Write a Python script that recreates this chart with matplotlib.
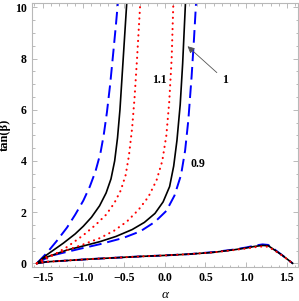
import matplotlib
matplotlib.use("Agg")
import matplotlib.pyplot as plt
from matplotlib.ticker import MultipleLocator

# ---------------- data ----------------
# blue dashed
blue_left_a = [-1.571, -1.45, -1.325, -1.2, -1.1, -1.0, -0.92, -0.85, -0.79, -0.75, -0.71, -0.67, -0.63, -0.60, -0.575]
blue_left_y = [0.0, 0.4, 0.88, 1.4, 1.9, 2.45, 3.0, 3.6, 4.3, 5.0, 5.9, 7.0, 8.3, 9.3, 10.2]
blue_right_a = [-1.571, -1.407, -1.2, -1.0, -0.794, -0.512, -0.3, -0.12, 0.02, 0.12, 0.2, 0.25, 0.29, 0.33, 0.36, 0.385]
blue_right_y = [0.0, 0.29, 0.45, 0.6, 0.75, 0.99, 1.25, 1.62, 2.05, 2.65, 3.45, 4.4, 5.6, 7.3, 8.8, 10.2]
blue_low_a = [-1.571, -1.45, -1.2, -0.9, -0.6, -0.3, 0.0, 0.3, 0.6, 0.85, 1.0, 1.1, 1.2, 1.27, 1.35, 1.45, 1.571]
blue_low_y = [0.0, 0.06, 0.11, 0.17, 0.22, 0.27, 0.31, 0.36, 0.44, 0.54, 0.62, 0.69, 0.74, 0.72, 0.54, 0.30, 0.0]

# black solid
black_left_a = [-1.571, -1.45, -1.245, -1.1, -1.0, -0.9, -0.8, -0.72, -0.66, -0.615, -0.58, -0.55, -0.52, -0.49, -0.466]
black_left_y = [0.0, 0.33, 0.79, 1.15, 1.45, 1.8, 2.25, 2.75, 3.3, 4.0, 4.9, 6.0, 7.5, 9.0, 10.2]
black_right_a = [-1.571, -1.49, -1.2, -1.0, -0.794, -0.6, -0.4, -0.25, -0.12, -0.02, 0.06, 0.11, 0.15, 0.19, 0.22, 0.255]
black_right_y = [0.0, 0.2, 0.52, 0.68, 0.85, 1.05, 1.32, 1.6, 1.95, 2.4, 3.0, 3.8, 4.8, 6.2, 7.8, 10.2]
black_low_a = [-1.571, -1.45, -1.2, -0.9, -0.6, -0.3, 0.0, 0.3, 0.6, 0.85, 1.0, 1.1, 1.2, 1.27, 1.35, 1.45, 1.571]
black_low_y = [0.0, 0.06, 0.11, 0.17, 0.22, 0.27, 0.31, 0.36, 0.43, 0.53, 0.60, 0.66, 0.70, 0.69, 0.52, 0.30, 0.0]

# red dotted
red_left_a = [-1.571, -1.407, -1.2, -1.0, -0.85, -0.72, -0.62, -0.54, -0.48, -0.44, -0.40, -0.37, -0.34, -0.30]
red_left_y = [0.0, 0.25, 0.64, 1.1, 1.5, 1.9, 2.35, 2.85, 3.45, 4.2, 5.3, 6.5, 8.0, 10.2]
red_right_a = [-1.571, -1.448, -1.2, -1.0, -0.794, -0.62, -0.466, -0.32, -0.2, -0.1, -0.03, 0.02, 0.055, 0.085, 0.106]
red_right_y = [0.0, 0.26, 0.52, 0.74, 0.99, 1.28, 1.63, 2.1, 2.6, 3.25, 4.0, 5.0, 6.3, 8.0, 10.2]
red_low_a = [-1.571, -1.45, -1.2, -0.9, -0.6, -0.3, 0.0, 0.3, 0.6, 0.85, 1.0, 1.1, 1.2, 1.27, 1.35, 1.45, 1.571]
red_low_y = [0.0, 0.06, 0.11, 0.17, 0.22, 0.27, 0.31, 0.36, 0.43, 0.52, 0.58, 0.63, 0.66, 0.65, 0.50, 0.29, 0.0]

x_ticks = [-1.5, -1.0, -0.5, 0.0, 0.5, 1.0, 1.5]
x_tick_labels = ["\u22121.5", "\u22121.0", "\u22120.5", "0.0", "0.5", "1.0", "1.5"]
y_ticks = [0, 2, 4, 6, 8, 10]
y_tick_labels = ["0", "2", "4", "6", "8", "10"]

labels_text = ["1.1", "1", "0.9"]
labels_pos = [(-0.07, 7.16), (0.74, 7.16), (0.41, 3.9)]
arrow_tail = (0.64, 7.45)
arrow_head = (0.28, 8.48)

# ---------------- figure ----------------
fig = plt.figure(figsize=(2.99, 3.01), dpi=100)
ax = fig.add_axes([0.106, 0.114, 0.891, 0.877])

serif = "Liberation Serif"
dash = dict(color=(0, 0, 1), lw=1.4, dashes=(6.5, 3))
solid = dict(color="black", lw=1.2)
dot = dict(color=(1, 0, 0), lw=1.5, linestyle=(0, (0.1, 2.6)), dash_capstyle="round")

for a, y in [(blue_left_a, blue_left_y), (blue_right_a, blue_right_y), (blue_low_a, blue_low_y)]:
    ax.plot(a, y, **dash)
for a, y in [(black_left_a, black_left_y), (black_right_a, black_right_y), (black_low_a, black_low_y)]:
    ax.plot(a, y, **solid)
for a, y in [(red_left_a, red_left_y), (red_right_a, red_right_y), (red_low_a, red_low_y)]:
    ax.plot(a, y, **dot)

for t, (xx, yy) in zip(labels_text, labels_pos):
    ax.text(xx, yy, t, ha="center", va="center", fontsize=8.5, fontweight="bold", family=serif)

ax.annotate("", xy=arrow_head, xytext=arrow_tail,
            arrowprops=dict(arrowstyle="-|>", color="#555555", lw=0.6,
                            mutation_scale=10, shrinkA=0, shrinkB=0,
                            facecolor="black"))

ax.set_xlim(-1.634, 1.638)
ax.set_ylim(-0.13, 10.18)

ax.set_xticks(x_ticks)
ax.set_xticklabels(x_tick_labels)
ax.set_yticks(y_ticks)
ax.set_yticklabels(y_tick_labels)
ax.xaxis.set_minor_locator(MultipleLocator(0.1))
ax.yaxis.set_minor_locator(MultipleLocator(0.5))

ax.tick_params(which="both", direction="in", top=True, right=True, color="#b0b0b0", width=0.6)
ax.tick_params(which="major", length=3.5, pad=3.5)
ax.tick_params(which="minor", length=1.8)
for lab in ax.get_xticklabels() + ax.get_yticklabels():
    lab.set_family(serif)
    lab.set_fontweight("bold")
    lab.set_fontsize(8.5)

for s in ax.spines.values():
    s.set_color("#b8b8b8")
    s.set_linewidth(0.8)

ax.set_xlabel("\u03b1", family=serif, style="italic", fontsize=9.5, labelpad=4)
ax.set_ylabel("tan(\u03b2)", family=serif, fontweight="bold", fontsize=9, labelpad=3)

fig.savefig("out.png", dpi=100)
